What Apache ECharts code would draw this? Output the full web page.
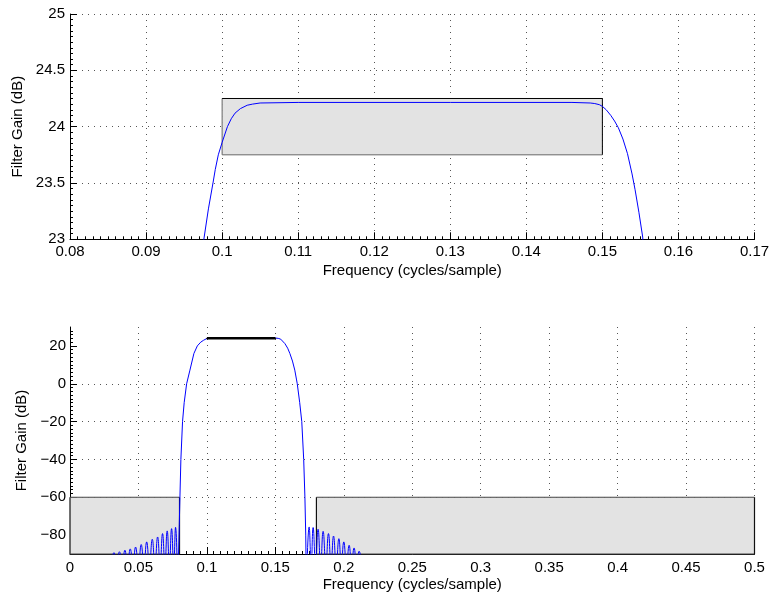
<!DOCTYPE html>
<html>
<head>
<meta charset="utf-8">
<script src="https://cdn.jsdelivr.net/npm/echarts@6/dist/echarts.min.js"></script>
<style>
html,body{margin:0;padding:0;background:#fff;}
#chart{width:773px;height:596px;}
</style>
</head>
<body>
<div id="chart"></div>
<script>
// ---------- data ----------
// main lobe of the filter response (frequency in cycles/sample, gain in dB)
const mainFreq = [0.0786, 0.0793, 0.0798, 0.0803, 0.0810, 0.0822, 0.0834, 0.0852, 0.0876, 0.0905,
  0.0930, 0.0955, 0.0967, 0.0976, 0.0982, 0.0988, 0.0991, 0.0995, 0.1000, 0.1007, 0.1012, 0.1017,
  0.1024, 0.1033, 0.1040, 0.1050, 0.1100, 0.1300, 0.1460, 0.1484, 0.1490, 0.1496, 0.1500, 0.1505,
  0.1511, 0.1516, 0.1521, 0.1527, 0.1533, 0.1539, 0.1543, 0.1548, 0.1553, 0.1570, 0.1590, 0.1606,
  0.1625, 0.1642, 0.1655, 0.1660, 0.1678, 0.1693, 0.1707, 0.1716, 0.1722, 0.1727];
const mainGain = [-110, -90, -75, -60, -40, -20, -10, 0, 7.2, 16,
  20, 22.0, 22.55, 23.0, 23.27, 23.5, 23.62, 23.75, 23.86, 24.0, 24.07, 24.12,
  24.16, 24.19, 24.2, 24.21, 24.215, 24.215, 24.215, 24.21, 24.205, 24.195, 24.18, 24.15,
  24.10, 24.05, 23.99, 23.89, 23.76, 23.58, 23.44, 23.24, 23.02, 21.2, 18.8, 16,
  12, 7.2, 2, 0, -10, -20, -40, -60, -80, -110];
// lower stopband side lobes (null, peak, null, ...)
const leftLobeFreq = [0.0301, 0.0321, 0.0341, 0.0361, 0.0381, 0.0401, 0.0420, 0.0440, 0.0460, 0.0479,
  0.0500, 0.0520, 0.0540, 0.0560, 0.0580, 0.0601, 0.0620, 0.0640, 0.0658, 0.0676, 0.0693, 0.0710,
  0.0726, 0.0742, 0.0757, 0.0771, 0.0786];
const leftLobeGain = [-96, -89.3, -96, -88.8, -96, -88.0, -96, -87.3, -96, -86.3,
  -96, -85.0, -96, -83.6, -96, -82.2, -96, -81.0, -96, -79.2, -96, -77.8,
  -96, -76.6, -96, -75.9, -110];
// upper stopband side lobes
const rightLobeFreq = [0.1727, 0.1747, 0.1762, 0.1776, 0.1794, 0.1812, 0.1831, 0.1849, 0.1869, 0.1888,
  0.1907, 0.1925, 0.1945, 0.1964, 0.1982, 0.2000, 0.2020, 0.2039, 0.2057, 0.2075, 0.2094, 0.2112, 0.2131];
const rightLobeGain = [-110, -75.7, -96, -76.0, -96, -76.9, -96, -78.0, -96, -79.2,
  -96, -80.5, -96, -81.9, -96, -83.6, -96, -85.4, -96, -86.8, -96, -88.5, -96];
// specification masks
const passMaskFreq = [0.1, 0.15];
const passMaskGain = [23.75, 24.25];
const stop1MaskFreq = [0, 0.08];
const stop2MaskFreq = [0.18, 0.5];
const stopMaskGain = [-90, -60];
// axes
const topXRange = [0.08, 0.17], topXStep = 0.01;
const topYRange = [23, 25], topYStep = 0.5;
const botXRange = [0, 0.5], botXStep = 0.05;
const botYRange = [-90, 30];
const botYTicks = [-80, -60, -40, -20, 0, 20];

// ---------- chart ----------
function pairs(f, g) { return f.map((v, i) => [v, g[i]]); }
const FONT = 'Liberation Sans';
const gridDot = { color: '#555', width: 1, type: [1, 5] };

function xAxisCfg(idx, range, step, gap, margin) {
  return {
    type: 'value', gridIndex: idx, min: range[0], max: range[1], interval: step,
    name: 'Frequency (cycles/sample)', nameLocation: 'middle', nameGap: gap,
    nameTextStyle: { fontFamily: FONT, fontSize: 15, color: '#000' },
    axisLine: { show: true, onZero: false, lineStyle: { color: '#000', width: 1 } },
    axisTick: { show: true, inside: true, length: 7, lineStyle: { color: '#000' } },
    minorTick: { show: true, splitNumber: 10, length: 3, lineStyle: { color: '#000' } },
    axisLabel: { fontFamily: FONT, fontSize: 15, color: '#000', margin: margin },
    splitLine: { show: true, lineStyle: gridDot }
  };
}
function lineSeries(idx, data, smooth) {
  return {
    type: 'line', xAxisIndex: idx, yAxisIndex: idx, data: data, showSymbol: false,
    smooth: smooth, clip: true, z: 5, animation: false,
    lineStyle: { color: '#0000ff', width: 1 }, itemStyle: { color: '#0000ff' }
  };
}
function maskSeries(idx, rects, edge, z) {
  return {
    type: 'custom', xAxisIndex: idx, yAxisIndex: idx, z: z || 3, animation: false, silent: true,
    encode: { x: [0, 1], y: [2, 3] },
    data: rects,
    renderItem: function (params, api) {
      const tl = api.coord([api.value(0), api.value(3)]);
      const br = api.coord([api.value(1), api.value(2)]);
      const x1 = tl[0], y1 = tl[1], x2 = br[0], y2 = br[1];
      const ln = (a, b, c, d, col) => ({ type: 'line', shape: { x1: a, y1: b, x2: c, y2: d },
        style: { stroke: col, lineWidth: edge.w } });
      return { type: 'group', children: [
        { type: 'rect', shape: { x: x1, y: y1, width: x2 - x1, height: y2 - y1 }, style: { fill: '#e3e3e3' } },
        ln(x1, y1, x1, y2, edge.left), ln(x1, y2, x2, y2, edge.bottom),
        ln(x2, y1, x2, y2, edge.right), ln(x1, y1, x2, y1, edge.top)
      ] };
    }
  };
}

const chart = echarts.init(document.getElementById('chart'), null, { renderer: 'canvas' });
const mainData = pairs(mainFreq, mainGain);
const leftData = pairs(leftLobeFreq, leftLobeGain);
const rightData = pairs(rightLobeFreq, rightLobeGain);

chart.setOption({
  animation: false,
  backgroundColor: '#fff',
  grid: [
    { left: 70, right: 18.5, top: 14, height: 225.3 },
    { left: 70, right: 18.5, top: 327, height: 227 }
  ],
  xAxis: [
    xAxisCfg(0, topXRange, topXStep, 24, 5),
    xAxisCfg(1, botXRange, botXStep, 23, 6)
  ],
  yAxis: [
    {
      type: 'value', gridIndex: 0, min: topYRange[0], max: topYRange[1], interval: topYStep,
      name: 'Filter Gain (dB)', nameLocation: 'middle', nameGap: 41,
      nameTextStyle: { fontFamily: FONT, fontSize: 15, color: '#000' },
      axisLine: { show: true, onZero: false, lineStyle: { color: '#000', width: 1 } },
      axisTick: { show: true, inside: true, length: 7, lineStyle: { color: '#000' } },
      minorTick: { show: true, splitNumber: 10, length: 3, lineStyle: { color: '#000' } },
      axisLabel: { fontFamily: FONT, fontSize: 15, color: '#000', margin: 5 },
      splitLine: { show: true, lineStyle: gridDot }
    },
    {
      type: 'value', gridIndex: 1, min: botYRange[0], max: botYRange[1], splitNumber: 6,
      name: 'Filter Gain (dB)', nameLocation: 'middle', nameGap: 36,
      nameTextStyle: { fontFamily: FONT, fontSize: 15, color: '#000' },
      axisLine: { show: true, onZero: false, lineStyle: { color: '#000', width: 1 } },
      axisTick: { show: true, inside: true, length: 7, lineStyle: { color: '#000' }, customValues: botYTicks },
      minorTick: { show: true, splitNumber: 10, length: 3, lineStyle: { color: '#000' } },
      axisLabel: { fontFamily: FONT, fontSize: 15, color: '#000', margin: 4, customValues: botYTicks,
        formatter: v => String(v).replace('-', '\u2212') },
      splitLine: { show: true, showMinLine: false, showMaxLine: false, lineStyle: gridDot }
    }
  ],
  series: [
    maskSeries(0, [[passMaskFreq[0], passMaskFreq[1], passMaskGain[0], passMaskGain[1]]],
      { top: '#000', right: '#000', left: '#666', bottom: '#666', w: 1 }),
    lineSeries(0, leftData, 0.5),
    lineSeries(0, mainData, false),
    lineSeries(0, rightData, 0.5),
    maskSeries(1, [
      [stop1MaskFreq[0], stop1MaskFreq[1], stopMaskGain[0], stopMaskGain[1]],
      [stop2MaskFreq[0], stop2MaskFreq[1], stopMaskGain[0], stopMaskGain[1]]
    ], { top: '#444', right: '#111', left: '#111', bottom: '#444', w: 1.2 }),
    maskSeries(1, [[passMaskFreq[0], passMaskFreq[1], passMaskGain[0], passMaskGain[1]]],
      { top: '#000', right: '#000', left: '#000', bottom: '#000', w: 1.6 }, 6),
    lineSeries(1, leftData, 0.5),
    lineSeries(1, mainData, false),
    lineSeries(1, rightData, 0.5)
  ]
});
</script>
</body>
</html>
